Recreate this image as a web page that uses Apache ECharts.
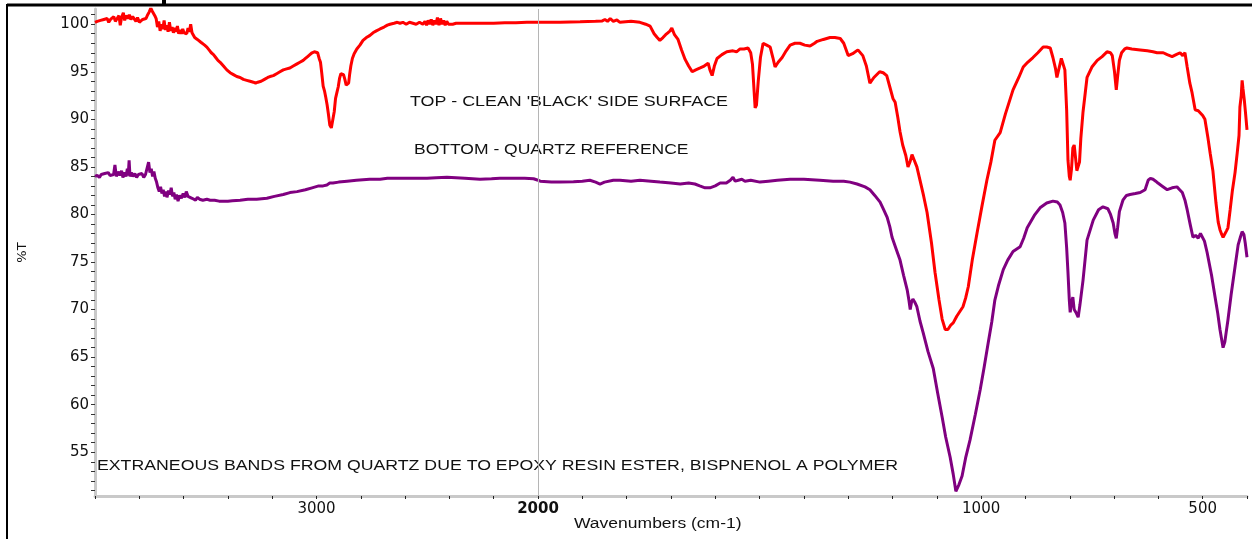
<!DOCTYPE html>
<html>
<head>
<meta charset="utf-8">
<title>IR spectrum</title>
<script src="https://cdn.jsdelivr.net/npm/echarts@6/dist/echarts.min.js"></script>
<style>
  html, body { margin: 0; padding: 0; background: #fff; }
  #chart { width: 1252px; height: 539px; }
</style>
</head>
<body>
<div id="chart"></div>
<script>
// Wavenumber split: 4000-2000 cm-1 drawn compressed, 2000-400 cm-1 expanded
const highRange = [2000, 4000];
const lowRange = [400, 2000];
const yRange = [50.4, 101.6];

const yLabelValues = [55, 60, 65, 70, 75, 80, 85, 90, 95, 100];
const yTickValues = [51, 52, 53, 54, 55, 56, 57, 58, 59, 60, 61, 62, 63, 64, 65, 66, 67, 68, 69, 70,
  71, 72, 73, 74, 75, 76, 77, 78, 79, 80, 81, 82, 83, 84, 85, 86, 87, 88, 89, 90,
  91, 92, 93, 94, 95, 96, 97, 98, 99, 100, 101];
const highLabels = [3000];
const lowLabels = [1000, 500];
const boldLabel = 2000;

const noteTop = "TOP - CLEAN 'BLACK' SIDE SURFACE";
const noteBottom = "BOTTOM - QUARTZ REFERENCE";
const noteBands = "EXTRANEOUS BANDS FROM QUARTZ DUE TO EPOXY RESIN ESTER, BISPNENOL A POLYMER";
const xTitle = "Wavenumbers (cm-1)";
const yTitle = "%T";

// Clean black side surface  [wavenumber, %T]
const topSurface = [
  [4000,100.2],[3990,100.3],[3982,100.1],[3975,100.4],[3968,100.2],[3960,100.5],[3952,100.3],[3945,100.6],
  [3938,100.2],[3930,100.5],[3922,100.4],[3915,100.8],[3908,100.3],[3900,100.6],[3892,100.9],[3886,99.9],
  [3880,100.7],[3872,101.2],[3866,100.4],[3860,100.9],[3852,100.6],[3845,101.0],[3838,100.5],[3830,100.8],
  [3822,100.6],[3815,100.3],[3808,100.7],[3800,100.2],[3792,100.0],[3785,100.5],[3778,100.3],[3770,100.6],
  [3762,101.0],[3755,101.3],[3748,101.7],[3742,101.4],[3736,101.6],[3730,100.9],[3724,100.6],[3718,99.7],
  [3712,100.3],[3706,99.3],[3700,100.0],[3694,99.5],[3688,100.4],[3682,99.4],[3676,99.9],[3670,99.2],
  [3664,100.2],[3658,99.3],[3652,99.7],[3646,99.1],[3640,99.6],[3634,99.2],[3628,99.8],[3622,99.0],
  [3616,99.4],[3610,99.0],[3604,99.5],[3598,99.1],[3592,99.3],[3586,99.0],[3580,99.6],[3574,99.2],
  [3568,100.0],[3562,99.1],[3556,98.9],[3550,98.6],[3544,98.8],[3538,98.4],[3530,98.5],[3522,98.1],
  [3515,98.2],[3505,97.8],[3495,97.6],[3485,97.3],[3475,97.0],[3465,96.8],[3455,96.5],[3445,96.2],
  [3435,96.0],[3420,95.6],[3405,95.2],[3390,94.9],[3375,94.7],[3360,94.5],[3345,94.4],[3330,94.2],
  [3315,94.1],[3300,94.0],[3285,93.9],[3275,93.8],[3265,93.9],[3250,94.0],[3235,94.2],[3220,94.4],
  [3210,94.5],[3195,94.6],[3180,94.8],[3165,95.0],[3150,95.2],[3135,95.3],[3120,95.4],[3105,95.6],
  [3090,95.8],[3075,96.0],[3060,96.2],[3050,96.4],[3040,96.6],[3030,96.8],[3020,97.0],[3010,97.1],
  [3002,97.2],[2995,97.0],[2988,96.4],[2982,96.0],[2976,94.8],[2970,93.5],[2964,93.0],[2958,92.3],
  [2952,91.5],[2946,90.5],[2940,89.4],[2933,89.1],[2926,89.3],[2920,90.8],[2914,92.2],[2908,92.8],
  [2902,93.4],[2896,94.3],[2890,94.8],[2884,95.0],[2878,94.7],[2872,94.2],[2866,93.6],[2860,93.4],
  [2855,93.8],[2850,94.8],[2845,95.6],[2838,96.4],[2830,96.9],[2818,97.4],[2804,97.8],[2790,98.3],
  [2775,98.6],[2760,98.8],[2745,99.1],[2730,99.3],[2713,99.5],[2695,99.7],[2680,99.9],[2668,100.0],
  [2650,100.1],[2635,100.2],[2623,100.1],[2610,100.2],[2595,100.0],[2580,100.2],[2565,100.1],[2550,100.0],
  [2535,100.2],[2520,100.0],[2510,100.3],[2503,99.9],[2496,100.4],[2489,100.0],[2482,100.5],[2475,99.9],
  [2468,100.4],[2461,100.0],[2454,100.7],[2447,99.9],[2440,100.6],[2433,100.0],[2426,100.4],[2419,99.9],
  [2412,100.3],[2404,100.0],[2396,100.2],[2385,100.0],[2370,100.1],[2340,100.1],[2300,100.1],[2260,100.1],
  [2200,100.1],[2150,100.15],[2100,100.15],[2050,100.2],[2000,100.2],
  [1995,100.2],[1950,100.2],[1905,100.25],[1870,100.3],[1855,100.35],[1849,100.5],[1843,100.3],[1837,100.6],
  [1830,100.3],[1822,100.45],[1815,100.2],[1790,100.3],[1770,100.2],[1757,100.0],[1747,99.8],[1738,99.0],
  [1731,98.6],[1725,98.3],[1718,98.6],[1712,98.9],[1707,99.1],[1702,99.3],[1698,99.6],[1692,98.9],
  [1684,98.4],[1676,97.3],[1668,96.3],[1660,95.6],[1652,95.0],[1644,95.2],[1634,95.4],[1625,95.6],
  [1616,95.9],[1612,95.2],[1607,94.6],[1602,95.6],[1596,96.4],[1585,96.8],[1574,97.1],[1560,97.2],
  [1552,97.1],[1544,97.4],[1535,97.4],[1526,97.5],[1520,97.0],[1516,95.8],[1513,93.5],[1510,91.2],
  [1507,91.5],[1503,94.0],[1498,96.5],[1492,98.0],[1484,97.8],[1476,97.6],[1470,96.5],[1465,95.5],
  [1458,96.0],[1449,96.5],[1440,97.2],[1431,97.8],[1420,98.0],[1409,98.0],[1398,97.8],[1386,97.7],
  [1376,98.0],[1370,98.2],[1356,98.4],[1341,98.6],[1330,98.6],[1318,98.5],[1310,98.0],[1300,96.7],
  [1290,96.9],[1278,97.3],[1267,96.7],[1259,95.6],[1251,93.8],[1242,94.4],[1229,95.0],[1221,94.9],
  [1213,94.6],[1206,93.4],[1199,92.2],[1194,91.8],[1188,90.2],[1183,88.7],[1177,87.3],[1170,86.2],
  [1165,85.0],[1160,85.6],[1156,86.3],[1150,85.6],[1145,85.0],[1138,83.6],[1130,82.0],[1122,80.2],
  [1112,77.0],[1104,73.9],[1095,71.0],[1088,69.0],[1081,67.9],[1075,67.9],[1068,68.4],[1063,68.6],
  [1055,69.3],[1048,69.8],[1041,70.3],[1035,71.2],[1029,72.4],[1020,75.2],[1009,78.1],[998,80.9],
  [987,83.6],[978,85.5],[969,87.8],[957,88.6],[945,90.6],[928,93.1],[915,94.4],[905,95.5],
  [895,96.0],[883,96.5],[872,97.0],[860,97.6],[852,97.6],[844,97.5],[838,96.5],[832,95.3],
  [829,94.4],[824,95.4],[819,96.4],[815,96.5],[811,95.2],[807,91.0],[804,85.7],[801,84.0],
  [799,83.6],[796,84.8],[793,87.0],[790,87.3],[787,86.0],[784,84.6],[781,84.4],[778,85.5],
  [775,88.0],[770,90.8],[765,92.8],[761,94.4],[750,95.5],[738,96.2],[727,96.6],[716,97.1],
  [708,97.0],[704,96.7],[699,95.0],[695,93.1],[692,94.5],[688,96.2],[683,97.0],[676,97.4],
  [671,97.5],[660,97.4],[641,97.3],[625,97.2],[612,97.1],[603,97.0],[589,97.0],[580,96.8],
  [569,96.6],[560,96.8],[551,97.0],[545,96.7],[540,97.0],[535,95.5],[529,93.8],[524,92.8],
  [517,91.0],[510,90.9],[506,90.8],[500,90.4],[495,90.0],[488,88.0],[483,86.4],[477,84.6],
  [470,81.2],[465,79.2],[461,78.4],[457,77.9],[454,77.6],[450,77.8],[446,78.3],[443,78.6],
  [438,80.5],[433,82.5],[427,84.4],[422,86.5],[418,88.3],[416,91.3],[413,92.5],[411,94.1],
  [409,93.2],[406,92.0],[403,90.5],[400,88.9]
];

// Quartz reference  [wavenumber, %T]
const quartzRef = [
  [4000,84.0],[3990,84.1],[3980,83.9],[3972,84.2],[3964,84.0],[3956,84.3],[3948,84.1],[3940,84.4],
  [3932,84.1],[3924,84.3],[3916,84.2],[3910,85.2],[3904,84.0],[3896,84.5],[3888,84.1],[3880,84.6],
  [3874,83.9],[3866,84.4],[3860,84.0],[3854,84.8],[3850,84.1],[3846,85.7],[3842,84.0],[3836,84.4],
  [3828,84.0],[3820,84.3],[3812,83.9],[3804,84.2],[3796,84.0],[3788,84.3],[3780,83.9],[3772,84.2],
  [3764,84.0],[3758,85.5],[3752,84.4],[3746,84.8],[3740,84.0],[3734,84.5],[3728,83.8],[3722,83.4],
  [3716,82.8],[3710,82.4],[3704,82.9],[3698,82.2],[3692,82.6],[3686,81.9],[3680,82.4],[3675,81.8],
  [3668,82.5],[3662,82.1],[3656,82.8],[3650,81.9],[3644,82.3],[3638,81.6],[3632,82.1],[3625,81.4],
  [3618,82.0],[3610,81.7],[3602,82.2],[3594,81.8],[3588,82.4],[3580,81.9],[3572,82.0],[3562,81.7],
  [3554,81.9],[3546,81.5],[3538,81.8],[3528,81.6],[3513,81.5],[3495,81.6],[3480,81.5],[3460,81.5],
  [3440,81.4],[3422,81.4],[3400,81.4],[3380,81.45],[3345,81.5],[3310,81.6],[3270,81.6],[3224,81.7],
  [3190,81.9],[3150,82.1],[3120,82.3],[3088,82.4],[3050,82.6],[3020,82.8],[2990,83.0],[2970,83.0],
  [2953,83.1],[2940,83.3],[2926,83.3],[2900,83.4],[2862,83.5],[2820,83.6],[2760,83.7],[2713,83.7],
  [2680,83.8],[2637,83.8],[2580,83.8],[2540,83.8],[2501,83.8],[2460,83.85],[2411,83.9],[2370,83.85],
  [2330,83.8],[2262,83.7],[2210,83.75],[2172,83.8],[2120,83.8],[2060,83.8],[2020,83.75],[2000,83.6],
  [1995,83.5],[1970,83.4],[1950,83.4],[1920,83.45],[1900,83.5],[1883,83.6],[1870,83.4],[1860,83.2],
  [1850,83.4],[1830,83.6],[1815,83.6],[1790,83.5],[1770,83.6],[1745,83.5],[1725,83.4],[1700,83.3],
  [1679,83.2],[1660,83.3],[1646,83.2],[1635,83.0],[1623,82.8],[1612,82.8],[1600,83.0],[1589,83.3],
  [1575,83.3],[1566,83.6],[1560,83.9],[1555,83.5],[1548,83.6],[1540,83.7],[1533,83.5],[1520,83.6],
  [1499,83.4],[1480,83.5],[1460,83.6],[1431,83.7],[1400,83.7],[1364,83.6],[1334,83.5],[1310,83.5],
  [1296,83.4],[1280,83.2],[1262,82.9],[1251,82.6],[1240,82.0],[1228,81.3],[1220,80.5],[1212,79.7],
  [1206,78.7],[1201,77.6],[1192,76.4],[1183,75.2],[1175,73.6],[1167,72.1],[1163,71.0],[1160,70.0],
  [1157,70.8],[1154,71.1],[1150,70.8],[1145,70.3],[1138,68.8],[1131,67.6],[1120,65.6],[1108,63.8],
  [1098,61.2],[1088,58.7],[1080,56.6],[1070,54.5],[1063,52.7],[1057,50.9],[1050,51.6],[1043,52.5],
  [1035,54.4],[1025,56.3],[1013,59.0],[1002,61.6],[993,64.0],[984,66.5],[976,68.7],[969,71.0],
  [961,72.5],[950,74.2],[940,75.2],[928,76.1],[912,76.6],[904,77.5],[896,78.6],[880,79.9],
  [867,80.7],[852,81.2],[838,81.4],[828,81.3],[822,81.0],[816,80.2],[811,79.1],[807,76.5],
  [804,73.9],[801,71.0],[799,69.7],[796,70.8],[793,71.3],[790,70.0],[786,69.7],[781,69.2],
  [777,70.5],[770,73.1],[761,77.3],[747,79.4],[735,80.5],[725,80.8],[714,80.6],[708,80.0],
  [702,79.1],[698,78.0],[695,77.5],[692,78.6],[688,80.3],[680,81.5],[672,82.0],[664,82.1],
  [652,82.2],[641,82.3],[630,82.6],[623,83.6],[618,83.8],[612,83.7],[606,83.5],[601,83.3],
  [592,83.0],[580,82.6],[569,82.8],[558,82.9],[552,82.6],[546,82.3],[540,81.5],[535,80.5],
  [528,78.9],[522,77.6],[516,77.8],[510,77.5],[505,78.0],[501,78.2],[496,77.2],[490,76.0],
  [480,73.6],[472,71.3],[466,69.6],[461,67.9],[457,66.8],[454,66.0],[450,66.6],[447,67.6],
  [443,68.9],[436,71.5],[427,74.5],[420,76.8],[415,77.6],[411,78.2],[407,77.9],[404,77.0],
  [400,75.5]
];

const RED = '#ff0000';
const PURPLE = '#800080';
const AXIS_GRAY = '#c9c9c9';
const LABEL_FONT = 'DejaVu Sans';
const NOTE_FONT = 'Liberation Sans';

const highPart = d => d.filter(p => p[0] >= 2000);
const lowPart = d => d.filter(p => p[0] <= 2000);

const chart = echarts.init(document.getElementById('chart'), null, { renderer: 'canvas' });

const axisLabelBase = { color: '#111', fontFamily: LABEL_FONT, fontSize: 15, margin: 6 };

function xAxisFor(gridIndex, range, interval, labelled) {
  return {
    type: 'value', gridIndex, min: range[0], max: range[1], interval, inverse: true,
    axisLine: { show: true, onZero: false, lineStyle: { color: AXIS_GRAY, width: 3 } },
    axisTick: { show: true, length: 3, lineStyle: { color: '#222', width: 1 } },
    splitLine: { show: false },
    axisLabel: Object.assign({}, axisLabelBase, {
      interval: 0, showMinLabel: true, showMaxLabel: true,
      formatter: v => v === boldLabel && gridIndex === 1 ? '{b|' + v + '}' : (labelled.includes(v) ? String(v) : ''),
      rich: { b: { fontFamily: LABEL_FONT, fontSize: 15, fontWeight: 'bold', color: '#111' } }
    })
  };
}

const option = {
  animation: false,
  backgroundColor: '#fff',
  grid: [
    { left: 95, top: 9, width: 443, height: 487 },
    { left: 538, top: 9, width: 709, height: 487 }
  ],
  xAxis: [
    xAxisFor(0, highRange, 200, highLabels),
    xAxisFor(1, lowRange, 100, lowLabels)
  ],
  yAxis: [
    {
      type: 'value', gridIndex: 0, min: yRange[0], max: yRange[1],
      name: yTitle, nameLocation: 'middle', nameGap: 66, nameRotate: 90,
      nameTextStyle: { fontFamily: LABEL_FONT, fontSize: 13, color: '#111' },
      axisLine: { show: true, lineStyle: { color: AXIS_GRAY, width: 3 } },
      axisTick: { show: true, length: 4, customValues: yTickValues, lineStyle: { color: '#333', width: 1 } },
      axisLabel: Object.assign({}, axisLabelBase, { customValues: yLabelValues }),
      splitLine: { show: false }
    },
    {
      type: 'value', gridIndex: 1, min: yRange[0], max: yRange[1], show: false,
      splitLine: { show: false }
    }
  ],
  series: [
    {
      type: 'line', xAxisIndex: 0, yAxisIndex: 0, data: highPart(quartzRef),
      showSymbol: false, lineStyle: { color: PURPLE, width: 3 }, z: 3
    },
    {
      type: 'line', xAxisIndex: 1, yAxisIndex: 1, data: lowPart(quartzRef),
      showSymbol: false, lineStyle: { color: PURPLE, width: 3 }, z: 3,
      markLine: {
        silent: true, symbol: 'none', label: { show: false },
        lineStyle: { color: '#b5b5b5', width: 1, type: 'solid' },
        data: [{ xAxis: boldLabel }]
      }
    },
    {
      type: 'line', xAxisIndex: 0, yAxisIndex: 0, data: highPart(topSurface),
      showSymbol: false, lineStyle: { color: RED, width: 3 }, z: 4
    },
    {
      type: 'line', xAxisIndex: 1, yAxisIndex: 1, data: lowPart(topSurface),
      showSymbol: false, lineStyle: { color: RED, width: 3 }, z: 4
    }
  ],
  graphic: [
    { type: 'line', shape: { x1: 7, y1: 5, x2: 1252, y2: 5 }, style: { stroke: '#000', lineWidth: 3 }, z: 10 },
    { type: 'line', shape: { x1: 7, y1: 4, x2: 7, y2: 539 }, style: { stroke: '#000', lineWidth: 2 }, z: 10 },
    { type: 'rect', shape: { x: 162, y: 0, width: 4, height: 6 }, style: { fill: '#000' }, z: 10 },
    {
      type: 'text', x: 410, y: 102, scaleX: 1.275, z: 5,
      style: { text: noteTop, fontFamily: NOTE_FONT, fontSize: 14, fill: '#111', textVerticalAlign: 'middle', textAlign: 'left' }
    },
    {
      type: 'text', x: 414, y: 150, scaleX: 1.25, z: 5,
      style: { text: noteBottom, fontFamily: NOTE_FONT, fontSize: 14, fill: '#111', textVerticalAlign: 'middle', textAlign: 'left' }
    },
    {
      type: 'text', x: 97, y: 466, scaleX: 1.265, z: 5,
      style: { text: noteBands, fontFamily: NOTE_FONT, fontSize: 14, fill: '#111', textVerticalAlign: 'middle', textAlign: 'left' }
    },
    {
      type: 'text', x: 574, y: 524, scaleX: 1.25, z: 5,
      style: { text: xTitle, fontFamily: NOTE_FONT, fontSize: 14, fill: '#111', textVerticalAlign: 'middle', textAlign: 'left' }
    }
  ]
};

chart.setOption(option);
</script>
</body>
</html>
